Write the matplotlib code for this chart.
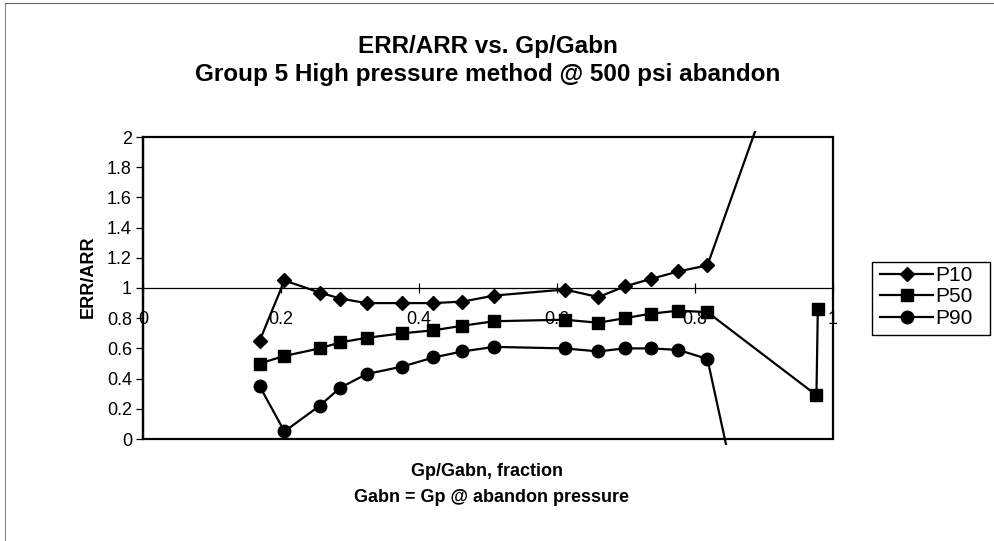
import matplotlib
matplotlib.use("Agg")
import matplotlib.pyplot as plt
from matplotlib.patches import Rectangle
from matplotlib.lines import Line2D

plt.rcParams['font.family'] = ['Liberation Sans', 'DejaVu Sans']

# Gp/Gabn fraction for each sample
x = [0.169, 0.205, 0.256, 0.286, 0.324, 0.376, 0.421, 0.463, 0.509,
     0.611, 0.660, 0.698, 0.736, 0.776, 0.818, 0.976, 0.978]

# ERR/ARR ratios
p10 = [0.65, 1.05, 0.97, 0.93, 0.90, 0.90, 0.90, 0.91, 0.95,
       0.99, 0.94, 1.01, 1.06, 1.11, 1.15, 3.18]
p50 = [0.50, 0.55, 0.60, 0.64, 0.67, 0.70, 0.72, 0.75, 0.78,
       0.79, 0.77, 0.80, 0.83, 0.85, 0.84, 0.29, 0.86]
p90 = [0.35, 0.05, 0.22, 0.34, 0.43, 0.48, 0.54, 0.58, 0.61,
       0.60, 0.58, 0.60, 0.60, 0.59, 0.53, -2.79]

series = [("P10", p10, "D", 7.0), ("P50", p50, "s", 8.0), ("P90", p90, "o", 9.0)]

title_lines = ["ERR/ARR vs. Gp/Gabn", "Group 5 High pressure method @ 500 psi abandon"]
xticks = [0, 0.2, 0.4, 0.6, 0.8, 1.0]
xticklabels = ["0", "0.2", "0.4", "0.6", "0.8", "1"]
yticks = [0, 0.2, 0.4, 0.6, 0.8, 1.0, 1.2, 1.4, 1.6, 1.8, 2.0]
yticklabels = ["0", "0.2", "0.4", "0.6", "0.8", "1", "1.2", "1.4", "1.6", "1.8", "2"]

W, H = 995, 541
fig = plt.figure(figsize=(W / 100, H / 100), dpi=100)
ax = fig.add_axes([143 / W, 1 - 439 / H, 690 / W, 302 / H])
ax.set_xlim(0, 1)
ax.set_ylim(0, 2)

# Lines may run slightly past the plot frame before being cut off
clip_rect = Rectangle((0, -0.02), 1, 1.04, transform=ax.transAxes,
                      fill=False, visible=False)
ax.add_patch(clip_rect)

handles = []
for name, vals, mk, ms in series:
    ln, = ax.plot(x[:len(vals)], vals, color="black", lw=1.6, marker=mk,
                  ms=ms, mfc="black", mec="black", zorder=4, label=name)
    ln.set_clip_path(clip_rect)
    handles.append(ln)

# Frame around the plot area
for s in ["top", "right"]:
    ax.spines[s].set_visible(False)
ax.add_patch(Rectangle((0, 0), 1, 1, transform=ax.transAxes, fill=False,
                       lw=1.6, edgecolor="black", zorder=5, clip_on=False))

# Category axis crosses the value axis at 1
ax.spines["bottom"].set_position(("data", 1))
ax.spines["bottom"].set_linewidth(0.9)
ax.spines["left"].set_linewidth(1.6)

ax.set_xticks(xticks)
ax.set_xticklabels(xticklabels)
ax.set_yticks(yticks)
ax.set_yticklabels(yticklabels)
ax.tick_params(axis="x", direction="inout", length=7, width=0.9, pad=13,
               labelsize=13)
ax.tick_params(axis="y", direction="out", length=5, width=0.9, pad=3,
               labelsize=13)

fig.text(488 / W, 1 - 46 / H, title_lines[0], ha="center", va="center",
         fontsize=17.5, fontweight="bold")
fig.text(488 / W, 1 - 74 / H, title_lines[1], ha="center", va="center",
         fontsize=17.5, fontweight="bold")
fig.text(88 / W, 1 - 277 / H, "ERR/ARR", rotation=90, ha="center",
         va="center", fontsize=13, fontweight="bold")
fig.text(487 / W, 1 - 471 / H, "Gp/Gabn, fraction", ha="center",
         va="center", fontsize=13, fontweight="bold")
fig.text(492 / W, 1 - 497 / H, "Gabn = Gp @ abandon pressure",
         ha="center", va="center", fontsize=13, fontweight="bold")

# Legend entries, with a separate box around them
leg = fig.legend(handles=handles, loc="center left",
                 bbox_to_anchor=(880 / W, 1 - 297 / H), frameon=False,
                 fontsize=15, handlelength=2.55, handletextpad=0.1,
                 borderpad=0, labelspacing=0.12, borderaxespad=0)
fig.add_artist(Rectangle((872 / W, 1 - 335 / H), 118 / W, 73 / H,
                         transform=fig.transFigure, fill=False,
                         edgecolor="black", lw=1.0))

# Outer chart border (top and left edges)
fig.add_artist(Line2D([5 / W, 5 / W], [0, 1 - 3 / H], color="#888888",
                      lw=0.8, transform=fig.transFigure))
fig.add_artist(Line2D([5 / W, 1], [1 - 3 / H, 1 - 3 / H],
                      color="#666666", lw=0.8, transform=fig.transFigure))

fig.savefig("out.png", dpi=100, facecolor="white")
